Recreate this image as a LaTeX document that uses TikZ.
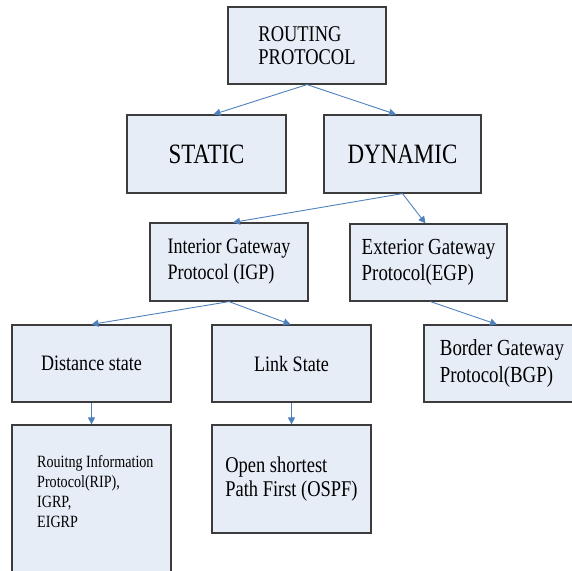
\documentclass[tikz,border=0pt]{standalone}
\usepackage{fontspec}
\setmainfont[FakeStretch=0.82]{Liberation Serif}
\usetikzlibrary{arrows.meta}
\definecolor{boxfill}{RGB}{231,237,247}
\definecolor{boxline}{RGB}{60,60,60}
\definecolor{arrowblue}{RGB}{79,129,189}
\begin{document}
\begin{tikzpicture}[x=1pt,y=-1pt,
  box/.style={draw=boxline, line width=1.2pt, fill=boxfill, inner sep=0pt, align=left},
  txt/.style={inner sep=0pt, align=left},
  conn/.style={draw=arrowblue, line width=0.9pt, -{Triangle[length=7pt,width=7pt]}},
  fbig/.style={font=\fontsize{28}{30}\selectfont},
  fmid/.style={font=\fontsize{22}{26}\selectfont},
  fsmall/.style={font=\fontsize{17.2}{20}\selectfont}]
\useasboundingbox (0,0) rectangle (572,570);
\clip (0,0) rectangle (572,570);

\node[box, minimum width=158pt, minimum height=77pt, font=\fontsize{22.5}{23}\selectfont] (root) at (307,45.5) {ROUTING\\PROTOCOL};

\node[box, fbig, minimum width=159pt, minimum height=78pt] (static) at (206.5,154) {STATIC};
\node[box, fbig, minimum width=157pt, minimum height=78pt] (dynamic) at (402.5,154) {DYNAMIC};

\node[box, fmid, minimum width=158pt, minimum height=78pt] (igp) at (229,262) {Interior Gateway\\Protocol (IGP)};
\node[box, font=\fontsize{23}{26}\selectfont, minimum width=157pt, minimum height=77pt] (egp) at (428.5,262.5) {Exterior Gateway\\Protocol(EGP)};

\node[box, fmid, minimum width=159pt, minimum height=77pt] (dist) at (91.5,363.5) {Distance state};
\node[box, fmid, minimum width=159pt, minimum height=77pt] (link) at (291.5,363.5) {Link State};
\node[box, font=\fontsize{23}{27}\selectfont, minimum width=156pt, minimum height=77pt] (bgp) at (502,363.5) {Border Gateway\\Protocol(BGP)};

\node[box, minimum width=159pt, minimum height=175pt] (rip) at (91.5,512.5) {};
\node[txt, fsmall, anchor=north west] (riptext) at (37,455) {Rouitng Information\\Protocol(RIP),\\IGRP,\\EIGRP};
\node[box, font=\fontsize{22.5}{24}\selectfont, minimum width=159pt, minimum height=108pt] (ospf) at (291.5,479) {Open shortest\\Path First (OSPF)};

\draw[conn] (root.south) -- ([xshift=7pt]static.north);
\draw[conn] (root.south) -- ([xshift=-6.5pt]dynamic.north);
\draw[conn] (dynamic.south) -- ([xshift=4pt]igp.north);
\draw[conn] (dynamic.south) -- ([xshift=-3pt]egp.north);
\draw[conn] (igp.south) -- (dist.north);
\draw[conn] (igp.south) -- ([xshift=-1pt]link.north);
\draw[conn] ([xshift=2pt]egp.south) -- ([xshift=-5pt]bgp.north);
\draw[conn] (dist.south) -- (rip.north);
\draw[conn] (link.south) -- (ospf.north);
\end{tikzpicture}
\end{document}
